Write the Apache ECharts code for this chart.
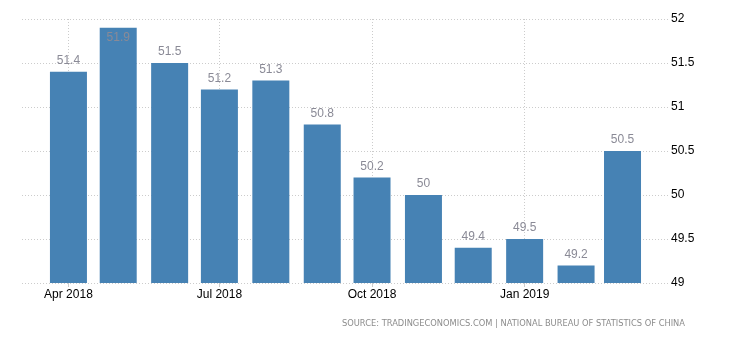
<!DOCTYPE html>
<html>
<head>
<meta charset="utf-8">
<script src="https://cdn.jsdelivr.net/npm/echarts@6/dist/echarts.min.js"></script>
<style>
html,body{margin:0;padding:0;background:#fff;}
#chart{width:730px;height:340px;}
</style>
</head>
<body>
<div id="chart"></div>
<script>
var months = ['2018-04-01','2018-05-01','2018-06-01','2018-07-01','2018-08-01','2018-09-01','2018-10-01','2018-11-01','2018-12-01','2019-01-01','2019-02-01','2019-03-01'];
var values = [51.4, 51.9, 51.5, 51.2, 51.3, 50.8, 50.2, 50, 49.4, 49.5, 49.2, 50.5];
var tickDates = ['2018-04-01','2018-07-01','2018-10-01','2019-01-01'];
var tickLabels = ['Apr 2018','Jul 2018','Oct 2018','Jan 2019'];
var yTicks = [49, 49.5, 50, 50.5, 51, 51.5, 52];
var sourceText = 'SOURCE: TRADINGECONOMICS.COM | NATIONAL BUREAU OF STATISTICS OF CHINA';

function ts(s){ var p = s.split('-'); return Date.UTC(+p[0], +p[1]-1, +p[2]); }
var tickTs = tickDates.map(ts);
var xMin = Date.UTC(2018, 2, 4, 0);
var xMax = Date.UTC(2019, 2, 28, 10);

var data = months.map(function(m, i){
  var item = { value: [ts(m), values[i]] };
  if (values[i] >= 51.8) item.label = { position: 'insideTop', distance: 4 };
  return item;
});

var chart = echarts.init(document.getElementById('chart'));
chart.setOption({
  animation: false,
  grid: { left: 22, right: 62, top: 19, bottom: 57, containLabel: false, outerBoundsMode: 'none' },
  xAxis: {
    type: 'value',
    min: xMin,
    max: xMax,
    axisLine: { show: false },
    axisTick: { show: true, customValues: tickTs, length: 4, lineStyle: { color: '#ccc' } },
    axisLabel: {
      customValues: tickTs,
      margin: 6,
      color: '#000',
      fontFamily: 'Liberation Sans',
      fontSize: 12,
      showMinLabel: true,
      showMaxLabel: true,
      formatter: function(v){ var i = tickTs.indexOf(v); return i >= 0 ? tickLabels[i] : ''; }
    },
    splitLine: { show: true, lineStyle: { color: '#ccc', type: [1, 2], width: 1 } }
  },
  yAxis: {
    type: 'value',
    position: 'right',
    min: yTicks[0],
    max: yTicks[yTicks.length-1],
    interval: 0.5,
    axisLine: { show: false },
    axisTick: { show: false },
    axisLabel: { margin: 3, color: '#000', fontFamily: 'Liberation Sans', fontSize: 12 },
    splitLine: { show: true, lineStyle: { color: '#ccc', type: [1, 2], width: 1 } }
  },
  series: [{
    type: 'bar',
    data: data,
    barWidth: 37,
    itemStyle: { color: '#4682B4' },
    label: {
      show: true,
      position: 'top',
      distance: 5,
      color: '#8a8a96',
      fontFamily: 'Liberation Sans',
      fontSize: 12,
      formatter: function(p){ return String(p.value[1]); }
    }
  }],
  graphic: [{
    type: 'text',
    right: 45,
    top: 320,
    style: { text: sourceText, fill: '#8c8c8c', font: '8.3px "DejaVu Sans"' }
  }]
});
</script>
</body>
</html>
